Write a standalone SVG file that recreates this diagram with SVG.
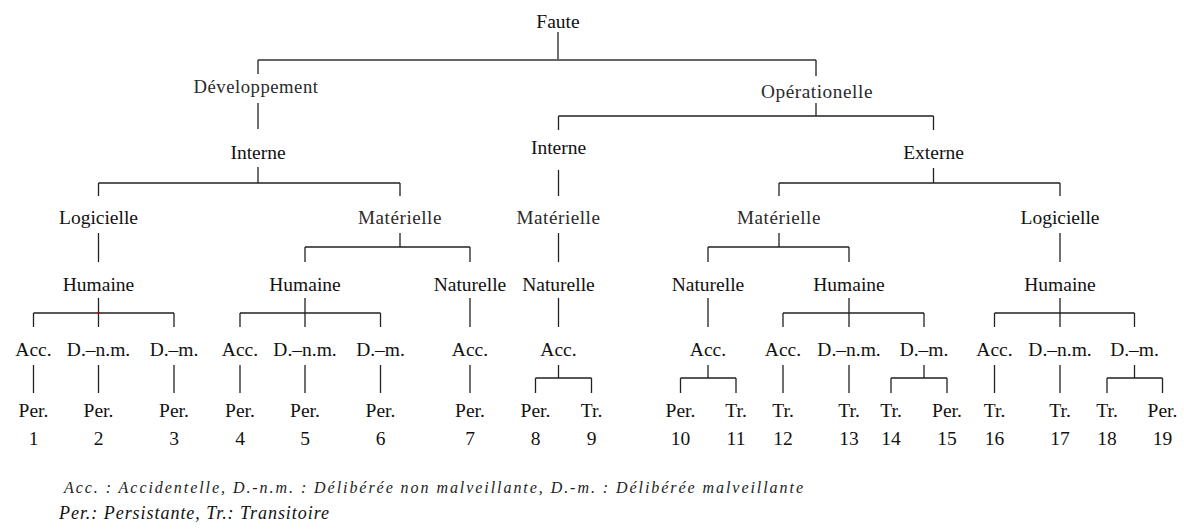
<svg xmlns="http://www.w3.org/2000/svg" width="1184" height="530" viewBox="0 0 1184 530">
<style>
text{font-family:"Liberation Serif","Times New Roman",serif;fill:#111;text-anchor:middle}
.t{font-size:19.5px}
.cm{font-size:18px;fill:#2a2a2a;letter-spacing:0.5px}
.lg1{font-size:16px;font-style:italic;text-anchor:start;fill:#222}
.lg2{font-size:18px;font-style:italic;text-anchor:start;fill:#111}
#connectors path{fill:none;stroke:#222;stroke-width:1.3}
#connectors path.top{stroke:#666;stroke-width:2}
</style>
<rect width="1184" height="530" fill="#fff"/>
<g id="connectors">
<path d="M558 32V60"/>
<path class="top" d="M258 60H816"/>
<path d="M258 60V74M816 60V76"/>
<path d="M258 103V129"/>
<path d="M816 103V116M558.5 116H933.5M558.5 116V130M933.5 116V130"/>
<path d="M258 167V183M98.5 183H400M98.5 183V196M400 183V196"/>
<path d="M558.5 170V196"/>
<path d="M933.5 168V183M779 183H1060M779 183V196M1060 183V196"/>
<path d="M98.5 233V262"/>
<path d="M400 233V247M305 247H470M305 247V262M470 247V262"/>
<path d="M558.5 233V262"/>
<path d="M779 233V247M708 247H849M708 247V262M849 247V262"/>
<path d="M1060 233V262"/>
<path d="M98.5 298V313M33.5 313H174M33.5 313V327M98.5 313V327M174 313V327"/>
<path d="M305 298V313M240 313H380.5M240 313V327M305 313V327M380.5 313V327"/>
<path d="M470 298V327M558.5 298V327M708 298V327"/>
<path d="M849 298V313M783 313H924M783 313V327M849 313V327M924 313V327"/>
<path d="M1060 298V313M994.5 313H1134.5M994.5 313V327M1060 313V327M1134.5 313V327"/>
<path d="M33.5 365V393M98.5 365V393M174 365V393M240 365V393M305 365V393M380.5 365V393M470 365V393"/>
<path d="M558.5 365V378M535.5 378H591.5M535.5 378V393M591.5 378V393"/>
<path d="M708 365V378M680.5 378H736M680.5 378V393M736 378V393"/>
<path d="M783 365V393M849 365V393M994.5 365V393M1060 365V393"/>
<path d="M924 365V378M891 378H947M891 378V393M947 378V393"/>
<path d="M1134.5 365V378M1107 378H1162.5M1107 378V393M1162.5 378V393"/>
</g>
<rect x="97.5" y="312" width="2" height="2" fill="#c00000"/>
<g id="n-faute"><text class="t" x="558" y="28">Faute</text></g>
<g id="n-dev"><text class="cm" x="256" y="93" textLength="125" lengthAdjust="spacingAndGlyphs">Développement</text></g>
<g id="n-op"><text class="cm" x="817" y="98" textLength="112" lengthAdjust="spacingAndGlyphs">Opérationelle</text></g>
<g id="n-int1"><text class="t" x="258" y="159">Interne</text></g>
<g id="n-int2"><text class="t" x="558.5" y="154">Interne</text></g>
<g id="n-ext"><text class="t" x="933.5" y="159">Externe</text></g>
<g id="n-log1"><text class="t" x="98.5" y="224">Logicielle</text></g>
<g id="n-mat1"><text class="cm" x="400" y="224" textLength="84" lengthAdjust="spacingAndGlyphs">Matérielle</text></g>
<g id="n-mat2"><text class="cm" x="558.5" y="224" textLength="84" lengthAdjust="spacingAndGlyphs">Matérielle</text></g>
<g id="n-mat3"><text class="cm" x="779" y="224" textLength="84" lengthAdjust="spacingAndGlyphs">Matérielle</text></g>
<g id="n-log2"><text class="t" x="1060" y="224">Logicielle</text></g>
<g id="n-hum1"><text class="t" x="98.5" y="291">Humaine</text></g>
<g id="n-hum2"><text class="t" x="305" y="291">Humaine</text></g>
<g id="n-nat1"><text class="t" x="470" y="291">Naturelle</text></g>
<g id="n-nat2"><text class="t" x="558.5" y="291">Naturelle</text></g>
<g id="n-nat3"><text class="t" x="708" y="291">Naturelle</text></g>
<g id="n-hum3"><text class="t" x="849" y="291">Humaine</text></g>
<g id="n-hum4"><text class="t" x="1060" y="291">Humaine</text></g>
<g id="n-c1"><text class="t" x="33.5" y="356">Acc.</text></g>
<g id="n-c2"><text class="t" x="98.5" y="356">D.–n.m.</text></g>
<g id="n-c3"><text class="t" x="174" y="356">D.–m.</text></g>
<g id="n-c4"><text class="t" x="240" y="356">Acc.</text></g>
<g id="n-c5"><text class="t" x="305" y="356">D.–n.m.</text></g>
<g id="n-c6"><text class="t" x="380.5" y="356">D.–m.</text></g>
<g id="n-c7"><text class="t" x="470" y="356">Acc.</text></g>
<g id="n-c8"><text class="t" x="558.5" y="356">Acc.</text></g>
<g id="n-c9"><text class="t" x="708" y="356">Acc.</text></g>
<g id="n-c10"><text class="t" x="783" y="356">Acc.</text></g>
<g id="n-c11"><text class="t" x="849" y="356">D.–n.m.</text></g>
<g id="n-c12"><text class="t" x="924" y="356">D.–m.</text></g>
<g id="n-c13"><text class="t" x="994.5" y="356">Acc.</text></g>
<g id="n-c14"><text class="t" x="1060" y="356">D.–n.m.</text></g>
<g id="n-c15"><text class="t" x="1134.5" y="356">D.–m.</text></g>
<g id="n-l1"><text class="t" x="33.5" y="417">Per.</text><text class="t" x="33.5" y="445">1</text></g>
<g id="n-l2"><text class="t" x="98.5" y="417">Per.</text><text class="t" x="98.5" y="445">2</text></g>
<g id="n-l3"><text class="t" x="174" y="417">Per.</text><text class="t" x="174" y="445">3</text></g>
<g id="n-l4"><text class="t" x="240" y="417">Per.</text><text class="t" x="240" y="445">4</text></g>
<g id="n-l5"><text class="t" x="305" y="417">Per.</text><text class="t" x="305" y="445">5</text></g>
<g id="n-l6"><text class="t" x="380.5" y="417">Per.</text><text class="t" x="380.5" y="445">6</text></g>
<g id="n-l7"><text class="t" x="470" y="417">Per.</text><text class="t" x="470" y="445">7</text></g>
<g id="n-l8"><text class="t" x="535.5" y="417">Per.</text><text class="t" x="535.5" y="445">8</text></g>
<g id="n-l9"><text class="t" x="591.5" y="417">Tr.</text><text class="t" x="591.5" y="445">9</text></g>
<g id="n-l10"><text class="t" x="680.5" y="417">Per.</text><text class="t" x="680.5" y="445">10</text></g>
<g id="n-l11"><text class="t" x="736" y="417">Tr.</text><text class="t" x="736" y="445">11</text></g>
<g id="n-l12"><text class="t" x="783" y="417">Tr.</text><text class="t" x="783" y="445">12</text></g>
<g id="n-l13"><text class="t" x="849" y="417">Tr.</text><text class="t" x="849" y="445">13</text></g>
<g id="n-l14"><text class="t" x="891" y="417">Tr.</text><text class="t" x="891" y="445">14</text></g>
<g id="n-l15"><text class="t" x="947" y="417">Per.</text><text class="t" x="947" y="445">15</text></g>
<g id="n-l16"><text class="t" x="994.5" y="417">Tr.</text><text class="t" x="994.5" y="445">16</text></g>
<g id="n-l17"><text class="t" x="1060" y="417">Tr.</text><text class="t" x="1060" y="445">17</text></g>
<g id="n-l18"><text class="t" x="1107" y="417">Tr.</text><text class="t" x="1107" y="445">18</text></g>
<g id="n-l19"><text class="t" x="1162.5" y="417">Per.</text><text class="t" x="1162.5" y="445">19</text></g>
<g id="legend">
<text class="lg1" x="64" y="493" textLength="739" lengthAdjust="spacing">Acc. : Accidentelle, D.-n.m. : Délibérée non malveillante, D.-m. : Délibérée malveillante</text>
<text class="lg2" x="59" y="519" textLength="270" lengthAdjust="spacing">Per.: Persistante, Tr.: Transitoire</text>
</g>
</svg>
